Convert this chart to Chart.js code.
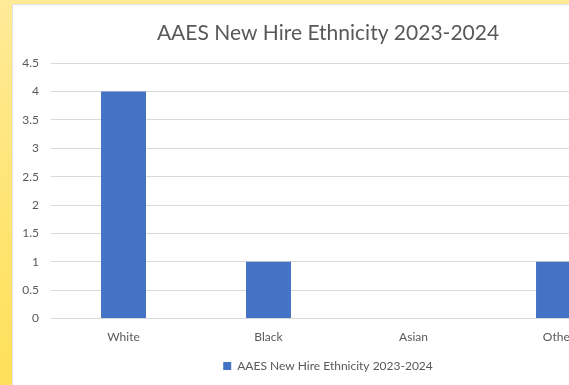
<!DOCTYPE html>
<html>
<head>
<meta charset="utf-8">
<script src="https://cdn.jsdelivr.net/npm/chart.js@4"></script>
<style>
  html, body { margin: 0; padding: 0; }
  body {
    width: 569px; height: 385px; overflow: hidden; position: relative;
    background: linear-gradient(to bottom, #ffea98 0%, #ffe470 60%, #ffe05a 100%);
  }
  #panel {
    position: absolute; left: 12px; top: 4px;
    width: 640px; height: 400px;
    background: #fff; border-left: 1px solid #e2e2e2; border-top: 1px solid #e2e2e2;
  }
  canvas { display: block; }
</style>
</head>
<body>
<div id="panel"><canvas id="chart" width="640" height="400"></canvas></div>
<script>
const categories = ['White', 'Black', 'Asian', 'Other'];
const hires = [4, 1, 0, 1];
const seriesName = 'AAES New Hire Ethnicity 2023-2024';
const yTicks = [0, 0.5, 1, 1.5, 2, 2.5, 3, 3.5, 4, 4.5];

const textColor = '#595959';
const fontFamily = 'Lato, "Open Sans", sans-serif';

new Chart(document.getElementById('chart'), {
    type: 'bar',
    data: {
        labels: categories,
        datasets: [{
            label: seriesName,
            data: hires,
            backgroundColor: '#4472c4',
            borderWidth: 0,
            categoryPercentage: 1,
            barPercentage: 0.31
        }]
    },
    options: {
        responsive: false,
        animation: false,
        layout: { padding: { top: 16, right: 10, bottom: 23, left: 0 } },
        plugins: {
            title: {
                display: true,
                text: seriesName,
                color: textColor,
                font: { family: fontFamily, size: 21, weight: 'normal' },
                padding: { top: 0, bottom: 17 }
            },
            legend: {
                position: 'bottom',
                labels: {
                    color: textColor,
                    font: { family: fontFamily, size: 12 },
                    boxWidth: 8,
                    boxHeight: 8,
                    padding: 13
                }
            },
            tooltip: { enabled: false }
        },
        scales: {
            x: {
                grid: { display: false },
                border: { display: false },
                ticks: {
                    color: textColor,
                    font: { family: fontFamily, size: 12 },
                    padding: 3
                }
            },
            y: {
                min: 0,
                max: 4.5,
                afterBuildTicks: scale => {
                    scale.ticks = yTicks.map(v => ({ value: v }));
                },
                afterFit: scale => { scale.width = 38; },
                grid: { color: '#d9d9d9', drawTicks: false },
                border: { display: false },
                ticks: {
                    color: textColor,
                    font: { family: fontFamily, size: 12 },
                    padding: 12,
                    callback: v => String(v)
                }
            },
            // empty strip on the right so the plot ends before the title box does
            gap: {
                position: 'right',
                afterFit: scale => { scale.width = 12; },
                grid: { display: false },
                border: { display: false },
                ticks: { display: false }
            }
        }
    }
});
</script>
</body>
</html>
